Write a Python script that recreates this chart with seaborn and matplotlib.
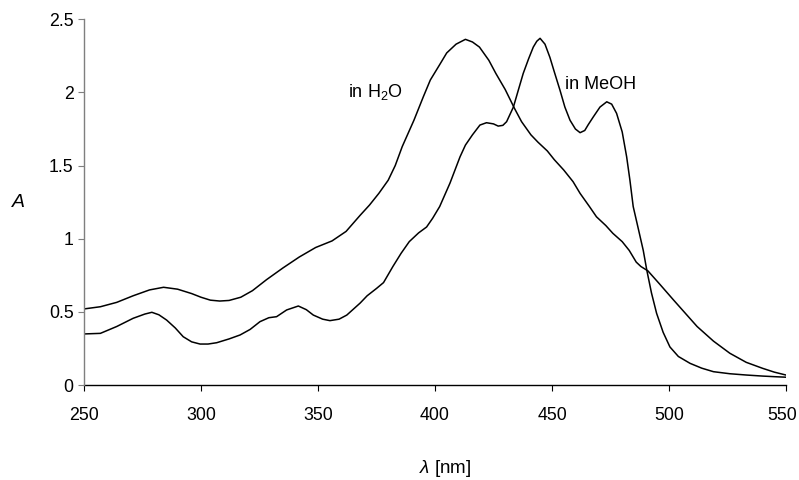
import matplotlib
matplotlib.use("Agg")
import matplotlib.pyplot as plt
import matplotlib.transforms as mtransforms
import seaborn as sns
import pandas as pd

# --- data ---
h2o_nm = [250, 257, 264, 271, 278, 284, 290, 296, 300, 304, 308, 312, 317, 322, 328, 335,
          342, 349, 356, 362, 368, 372, 376, 380, 383, 386, 391, 395, 398, 402, 405, 409,
          413, 416, 419, 423, 426, 430, 434, 437, 441, 444, 448, 451, 455, 459, 462, 466,
          469, 473, 476, 480, 483, 486, 488, 491, 496, 502, 507, 512, 519, 526, 533, 540,
          545, 550]
h2o_abs = [0.52, 0.535, 0.565, 0.61, 0.65, 0.668, 0.655, 0.625, 0.60, 0.58, 0.574, 0.578,
           0.60, 0.645, 0.72, 0.80, 0.875, 0.94, 0.985, 1.05, 1.16, 1.23, 1.31, 1.40,
           1.50, 1.63, 1.81, 1.97, 2.085, 2.19, 2.27, 2.33, 2.363, 2.345, 2.31, 2.22, 2.13,
           2.02, 1.89, 1.80, 1.71, 1.66, 1.60, 1.54, 1.47, 1.39, 1.31, 1.22, 1.15, 1.09,
           1.037, 0.98, 0.92, 0.84, 0.81, 0.78, 0.69, 0.58, 0.49, 0.40, 0.30, 0.217, 0.155,
           0.114, 0.088, 0.068]

meoh_nm = [250, 257, 264, 271, 276, 279, 282, 285.3, 289, 292.4, 296, 299.6, 303, 306.7,
           312, 316.7, 321, 325.2, 329, 332.3, 336.6, 341.6, 345, 348, 352, 355.1, 359,
           362.3, 368, 371, 375, 378, 382, 385.5, 389, 393, 396.4, 399, 402, 406.4, 410.7,
           413, 416, 419.2, 422, 425, 427, 429, 430.6, 433.5, 435.5, 437.7, 440, 442, 443.5,
           444.9, 447, 449.1, 451, 453.4, 455.5, 457.7, 460, 462, 464, 465.5, 467.7, 470.5,
           473.4, 475.5, 477.6, 480, 481.9, 483.3, 484.7, 487, 489, 490.5, 492.5, 494.7,
           497.5, 500.4, 504, 509, 514, 519, 526, 533.2, 540, 545, 550.3]
meoh_abs = [0.349, 0.353, 0.40, 0.456, 0.485, 0.497, 0.48, 0.444, 0.39, 0.33, 0.295, 0.28,
            0.28, 0.289, 0.315, 0.342, 0.38, 0.433, 0.46, 0.467, 0.513, 0.54, 0.515, 0.478,
            0.45, 0.44, 0.45, 0.478, 0.56, 0.61, 0.66, 0.70, 0.81, 0.90, 0.98, 1.04, 1.08,
            1.14, 1.22, 1.38, 1.56, 1.64, 1.71, 1.777, 1.793, 1.785, 1.77, 1.775, 1.80, 1.90,
            2.01, 2.13, 2.23, 2.31, 2.35, 2.37, 2.33, 2.24, 2.14, 2.016, 1.90, 1.81, 1.75,
            1.725, 1.74, 1.78, 1.834, 1.90, 1.936, 1.92, 1.857, 1.73, 1.56, 1.40, 1.22, 1.06,
            0.92, 0.786, 0.63, 0.49, 0.36, 0.26, 0.195, 0.148, 0.115, 0.091, 0.077, 0.068,
            0.061, 0.057, 0.053]

x_ticks = [250, 300, 350, 400, 450, 500, 550]
y_ticks = [0, 0.5, 1, 1.5, 2, 2.5]
y_tick_labels = ["0", "0.5", "1", "1.5", "2", "2.5"]

sns.set_theme(style="ticks")
plt.rcParams['font.family'] = ['Liberation Sans', 'DejaVu Sans']
plt.rcParams['mathtext.fontset'] = 'custom'
plt.rcParams['mathtext.rm'] = 'Liberation Sans'
plt.rcParams['mathtext.it'] = 'Liberation Sans:italic'
plt.rcParams['text.color'] = 'black'
plt.rcParams['axes.labelcolor'] = 'black'

df_h2o = pd.DataFrame({"nm": h2o_nm, "A": h2o_abs})
df_meoh = pd.DataFrame({"nm": meoh_nm, "A": meoh_abs})

fig = plt.figure(figsize=(7.99, 4.80), dpi=100)
ax = fig.add_axes([84 / 799, 1 - 385 / 480, 702 / 799, (385 - 19.3) / 480])

sns.lineplot(data=df_h2o, x="nm", y="A", ax=ax, color="black", linewidth=1.1, sort=False)
sns.lineplot(data=df_meoh, x="nm", y="A", ax=ax, color="black", linewidth=1.1, sort=False)

ax.set_xlim(250, 550)
ax.set_ylim(0, 2.5)
ax.set_xticks(x_ticks)
ax.set_xticklabels([str(t) for t in x_ticks])
ax.set_yticks(y_ticks)
ax.set_yticklabels(y_tick_labels)

for s in ["top", "right"]:
    ax.spines[s].set_visible(False)
ax.spines["left"].set_color("#7f7f7f")
ax.spines["left"].set_linewidth(1.0)
ax.spines["bottom"].set_color("black")
ax.spines["bottom"].set_linewidth(1.0)
ax.spines["bottom"].set_zorder(0.5)

ax.tick_params(axis="both", direction="out", length=4.5, width=0.8, colors="black",
               labelsize=12.8)
ax.tick_params(axis="x", pad=11)
ax.tick_params(axis="y", pad=3, color="#7f7f7f")

# nudge the last x tick label slightly left so it stays inside the figure
last = ax.get_xticklabels()[-1]
last.set_transform(last.get_transform() +
                   mtransforms.ScaledTranslation(-4 / 100, 0, fig.dpi_scale_trans))

ax.set_xlabel(r"$\lambda$ [nm]", fontsize=13.5, color="black")
ax.xaxis.set_label_coords(0.514, -0.2)
ax.set_ylabel("A", fontsize=14, style="italic", rotation=0, va="center", ha="center",
              color="black")
ax.yaxis.set_label_coords(-0.094, 0.498)

ax.text(362.9, 1.966, r"in H$_2$O", fontsize=13, ha="left", va="baseline", color="black")
ax.text(455.6, 2.023, "in MeOH", fontsize=13, ha="left", va="baseline", color="black")

fig.savefig("out.png", dpi=100, facecolor="white")
